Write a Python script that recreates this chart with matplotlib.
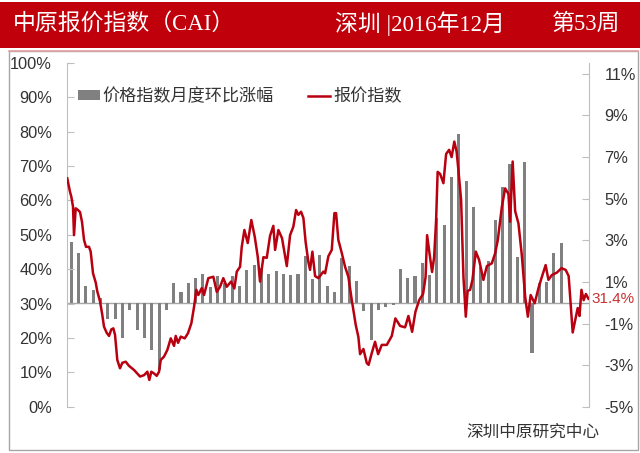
import matplotlib
matplotlib.use("Agg")
import matplotlib.pyplot as plt
from matplotlib.patches import Rectangle
from matplotlib.lines import Line2D

# ---------------- data ----------------
title_left = "中原报价指数（CAI）"
title_mid = "深圳 |2016年12月"
title_right = "第53周"
source_text = "深圳中原研究中心"
bar_label = "价格指数月度环比涨幅"
line_label = "报价指数"

# monthly change of price index (%), right axis; x = month index
bar_values = [2.92, 2.39, 0.79, 0.63, 0.22, -0.76, -0.76, -1.69, -0.33, -1.29,
              -1.69, -2.25, -3.24, -0.36, 0.95, 0.52, 0.95, 1.21, 1.40, 0.76,
              1.27, 0.95, 1.27, 0.80, 1.55, 1.80, 1.68, 1.36, 1.51, 1.37,
              1.32, 1.40, 2.25, 1.12, 2.28, 0.79, 0.52, 2.15, 1.77, 1.04,
              -0.39, -1.77, -0.36, -0.20, -0.10, 1.60, 1.19, 1.30, 1.90, 1.32,
              4.05, 3.73, 6.02, 8.10, 5.86, 4.60, 1.70, 2.00, 4.00, 5.55,
              6.68, 2.20, 6.75, -2.41, 0.94, 1.00, 2.41, 2.85]

# quote index (%), left axis; x in months (weekly samples)
line_x = [-0.55, -0.18, 0.00, 0.23, 0.37, 0.60, 0.92, 1.19, 1.46, 1.74,
          2.01, 2.42, 2.65, 2.97, 3.34, 3.56, 3.93, 4.24, 4.47, 4.84,
          5.16, 5.47, 5.75, 5.98, 6.29, 6.66, 6.98, 7.44, 7.89, 8.58,
          9.40, 9.95, 10.40, 10.67, 10.94, 11.31, 11.68, 12.00, 12.23, 12.68,
          13.13, 13.60, 14.05, 14.28, 14.60, 14.97, 15.51, 15.96, 16.42, 16.79,
          17.10, 17.37, 17.84, 18.15, 18.74, 19.43, 19.89, 20.34, 20.79, 21.26,
          21.85, 22.30, 22.63, 23.08, 23.31, 23.67, 24.13, 24.62, 25.09, 25.50,
          25.81, 26.27, 26.73, 27.18, 27.63, 27.87, 28.32, 28.82, 29.47, 29.92,
          30.37, 30.74, 31.05, 31.42, 31.74, 32.04, 32.42, 32.65, 32.97, 33.34,
          33.79, 34.47, 34.71, 35.16, 35.62, 35.98, 36.21, 36.52, 36.99, 37.44,
          37.89, 38.36, 38.90, 39.26, 39.49, 39.95, 40.41, 40.66, 41.09, 41.54,
          41.96, 42.46, 43.15, 43.83, 44.32, 44.97, 45.65, 46.10, 46.61, 47.06,
          47.57, 48.11, 48.45, 48.66, 49.00, 49.34, 49.62, 49.89, 50.10, 50.44,
          50.89, 51.26, 51.67, 52.01, 52.38, 52.70, 52.94, 53.31, 53.63, 53.95,
          54.20, 54.54, 54.86, 55.32, 55.77, 56.36, 56.83, 57.51, 57.96, 58.33,
          58.88, 59.33, 59.78, 60.01, 60.36, 60.70, 61.15, 61.61, 62.07, 62.44,
          62.82, 63.37, 63.89, 64.33, 64.87, 65.25, 65.72, 66.40, 67.03, 67.61,
          68.02, 68.36, 68.57, 68.91, 69.25, 69.50, 69.77, 70.07, 70.38, 70.73]
line_values = [66.4, 62.5, 61.1, 58.2, 49.9, 57.7, 57.2, 56.6, 53.8, 48.5,
               46.5, 46.5, 45.1, 38.8, 36.1, 33.5, 30.6, 26.7, 23.3, 21.5,
               20.6, 22.5, 22.8, 20.9, 13.6, 11.2, 12.8, 13.1, 11.9, 10.7,
               8.8, 9.2, 10.2, 7.8, 10.2, 9.7, 9.0, 10.2, 13.6, 14.6,
               16.5, 19.9, 17.7, 20.6, 18.6, 20.4, 19.9, 21.4, 24.3, 29.1,
               34.0, 32.5, 34.5, 32.5, 37.4, 37.8, 33.4, 34.9, 37.4, 34.9,
               36.4, 34.4, 39.3, 40.7, 46.5, 51.4, 47.6, 54.3, 49.4, 43.6,
               36.4, 43.5, 43.3, 49.7, 52.6, 45.6, 51.4, 49.0, 40.9, 49.9,
               52.4, 57.2, 55.8, 56.7, 54.9, 48.0, 42.1, 39.8, 45.1, 38.0,
               37.4, 39.3, 38.8, 43.8, 45.6, 56.3, 56.3, 48.5, 44.7, 40.7,
               37.8, 31.0, 23.8, 20.3, 15.3, 16.8, 12.7, 12.2, 15.6, 18.9,
               15.3, 18.0, 18.0, 20.6, 25.7, 23.5, 23.1, 26.4, 21.8, 27.6,
               31.0, 32.8, 37.7, 49.9, 44.4, 39.2, 43.5, 54.2, 68.3, 67.7,
               65.0, 73.5, 74.7, 72.6, 77.1, 74.1, 68.8, 60.1, 37.7, 26.2,
               33.7, 34.0, 36.9, 45.1, 42.7, 36.9, 40.9, 41.7, 44.6, 48.5,
               58.1, 63.5, 61.9, 53.8, 71.3, 56.9, 53.3, 44.1, 32.0, 26.2,
               32.5, 30.1, 34.5, 37.6, 41.2, 36.9, 38.3, 39.0, 40.3, 39.8,
               38.0, 28.1, 21.6, 25.2, 28.7, 26.4, 34.0, 31.0, 32.8, 31.4]

left_ticks = [0, 10, 20, 30, 40, 50, 60, 70, 80, 90, 100]
right_ticks = [-5, -3, -1, 1, 3, 5, 7, 9, 11]

# ---------------- style ----------------
CJK = ["Noto Sans CJK SC", "DejaVu Sans"]
plt.rcParams["font.family"] = CJK
LINE_RED = "#B80010"
BAR_GRAY = "#808080"
AX_GRAY = "#BFBFBF"
TXT = "#333333"
HEAD_FONT = ["Liberation Serif", "Noto Sans CJK SC"]

fig = plt.figure(figsize=(6.4, 4.53), dpi=100)
W, H = 640, 453

def fx(px):
    return px / W

def fy(py):
    return 1 - py / H

# header band
fig.patches.append(Rectangle((0, fy(48)), 1, fy(2) - fy(48), transform=fig.transFigure,
                             facecolor="#C0000A", edgecolor="none", zorder=0))
fig.text(fx(13), fy(24), title_left, color="white", fontsize=16.5,
         family=HEAD_FONT, va="center", ha="left")
fig.text(fx(335), fy(24), title_mid, color="white", fontsize=16.5,
         family=HEAD_FONT, va="center", ha="left")
fig.text(fx(620), fy(24), title_right, color="white", fontsize=16.5,
         family=HEAD_FONT, va="center", ha="right")

# outer frame
fig.patches.append(Rectangle((fx(9), fy(450)), fx(638) - fx(9), fy(51) - fy(450),
                             transform=fig.transFigure, facecolor="none",
                             edgecolor="#A6A6A6", lw=1.0, zorder=0))
fig.lines.append(Line2D([fx(9), fx(638)], [fy(51), fy(51)], transform=fig.transFigure,
                        color="#E3A0A0", lw=1.2))

# axes
ax = fig.add_axes([fx(66.7), fy(406.8), fx(589) - fx(66.7), fy(62.8) - fy(406.8)])
ax2 = ax.twinx()
ax.set_zorder(ax2.get_zorder() + 1)
ax.patch.set_visible(False)

xlim = (-0.63, 70.8)
months = list(range(len(bar_values)))
ax2.bar(months, bar_values, width=0.42, color=BAR_GRAY, zorder=2, label=bar_label)
ax2.axhline(0, color="#A6A6A6", lw=1.0, zorder=1)
ax2.set_ylim(-5, 11.53)
ax2.set_yticks(right_ticks)
ax2.set_yticklabels([f"{t}%" for t in right_ticks])

ln, = ax.plot(line_x, line_values, color=LINE_RED, lw=1.8, zorder=3, label=line_label,
              solid_joinstyle="round")
ax.set_ylim(0, 100)
ax.set_yticks(left_ticks)
ax.set_yticklabels([f"{t}%" for t in left_ticks])
ax.set_xlim(*xlim)
ax2.set_xlim(*xlim)
ax.set_xticks([])

for a in (ax, ax2):
    for s in ("top", "bottom"):
        a.spines[s].set_visible(False)
    a.spines["left"].set_color(AX_GRAY)
    a.spines["right"].set_color(AX_GRAY)
    a.tick_params(axis="y", direction="in", length=5, color=AX_GRAY,
                  labelsize=11.8, labelcolor=TXT)
ax.spines["right"].set_visible(False)
ax2.spines["left"].set_visible(False)
ax.tick_params(axis="y", pad=10.5)
ax2.tick_params(axis="y", pad=11)
for lab in ax.get_yticklabels() + ax2.get_yticklabels():
    lab.set_family("Liberation Sans")

# last value label
ax.annotate(f"{line_values[-1]}%", xy=(line_x[-1], line_values[-1]), xytext=(2, 0),
            textcoords="offset points", ha="left", va="center", color="#C83232",
            fontsize=11, family="Liberation Sans", annotation_clip=False)

# legend
bars_handle = Rectangle((0, 0), 1, 1, facecolor=BAR_GRAY, edgecolor="none")
leg = ax.legend([bars_handle, ln], [bar_label, line_label], ncol=2, frameon=False,
                loc="center left", bbox_to_anchor=(fx(78), fy(96)),
                bbox_transform=fig.transFigure, fontsize=12.3, handlelength=1.3,
                handleheight=0.45, handletextpad=0.15, columnspacing=2.0,
                borderaxespad=0, borderpad=0)
for t in leg.get_texts():
    t.set_color(TXT)

fig.text(fx(533), fy(432), source_text, color=TXT, fontsize=12, ha="center", va="center")

fig.savefig("out.png", dpi=100)
